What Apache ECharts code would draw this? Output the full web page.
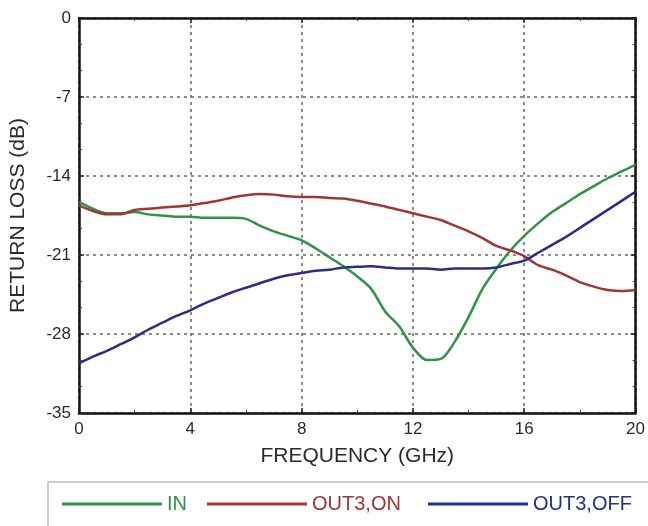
<!DOCTYPE html>
<html>
<head>
<meta charset="utf-8">
<script src="https://cdn.jsdelivr.net/npm/echarts@6/dist/echarts.min.js"></script>
<style>html,body{margin:0;padding:0;background:#fff;}#c{width:648px;height:526px;}</style>
</head>
<body>
<div id="c"></div>
<script>
const freq = [0,0.5,1,1.5,2,2.5,3,3.5,4,4.5,5,5.5,6,6.5,7,7.5,8,8.5,9,9.5,10,10.5,11,11.5,12,12.5,13,13.5,14,14.5,15,15.5,16,16.5,17,17.5,18,18.5,19,19.5,20];
const lossIN = [-16.3,-16.9,-17.3,-17.3,-17.2,-17.4,-17.5,-17.6,-17.6,-17.7,-17.7,-17.7,-17.8,-18.4,-18.9,-19.3,-19.7,-20.4,-21.2,-22.0,-22.9,-24.0,-26.0,-27.3,-29.2,-30.3,-30.2,-28.7,-26.5,-24.0,-22.2,-20.6,-19.3,-18.2,-17.2,-16.4,-15.6,-14.9,-14.2,-13.6,-13.0];
const lossOUT3ON = [-16.6,-17.1,-17.4,-17.4,-17.0,-16.9,-16.8,-16.7,-16.6,-16.4,-16.2,-15.9,-15.7,-15.6,-15.65,-15.8,-15.85,-15.85,-15.95,-16.0,-16.2,-16.45,-16.7,-17.0,-17.3,-17.6,-17.9,-18.4,-18.9,-19.5,-20.2,-20.6,-21.1,-21.9,-22.3,-22.8,-23.4,-23.8,-24.1,-24.2,-24.1];
const lossOUT3OFF = [-30.6,-30.0,-29.5,-28.9,-28.3,-27.6,-27.0,-26.4,-25.9,-25.3,-24.8,-24.3,-23.9,-23.5,-23.1,-22.8,-22.6,-22.4,-22.3,-22.1,-22.05,-22.0,-22.1,-22.2,-22.2,-22.2,-22.3,-22.2,-22.2,-22.2,-22.1,-21.8,-21.5,-20.8,-20.1,-19.4,-18.6,-17.8,-17.0,-16.2,-15.4];
const seriesNames = ['IN','OUT3,ON','OUT3,OFF'];
const seriesColors = ['#2f9448','#a23535','#2a2f86'];
const xTicks = [0,4,8,12,16,20];
const yTicks = [0,-7,-14,-21,-28,-35];

const pairs = arr => freq.map((f,i)=>[f,arr[i]]);
const font = 'Liberation Sans, Arial, sans-serif';
const chart = echarts.init(document.getElementById('c'));
const baseX = {type:'value',min:0,max:20,interval:4,
  axisLine:{show:true,onZero:false,lineStyle:{color:'#111',width:2.5}},
  axisTick:{show:true,inside:true,length:5,lineStyle:{color:'#222',width:1.5}},
  minorTick:{show:true,splitNumber:2,length:3,lineStyle:{color:'#444'}}};
const baseY = {type:'value',min:-35,max:0,interval:7,
  axisLine:{show:true,onZero:false,lineStyle:{color:'#111',width:2.5}},
  axisTick:{show:true,inside:true,length:5,lineStyle:{color:'#222',width:1.5}},
  minorTick:{show:true,splitNumber:3,length:3,lineStyle:{color:'#444'}}};
const lineData = [lossIN,lossOUT3ON,lossOUT3OFF];
const legendLeft = [62,207,428];
chart.setOption({
  animation:false,
  backgroundColor:'#fff',
  grid:{left:75,right:12,top:18,bottom:113},
  graphic:[{type:'rect',shape:{x:48,y:482,width:640,height:70},style:{fill:'none',stroke:'#bdbdbd',lineWidth:1.5},silent:true}],
  legend: seriesNames.map((n,i)=>({
    data:[{name:n,textStyle:{color:seriesColors[i]}}],
    left:legendLeft[i], top:494, icon:'rect', itemWidth:100, itemHeight:3,
    textStyle:{fontFamily:font,fontSize:20,padding:[0,0,0,0]}, padding:0
  })),
  xAxis:[
    Object.assign({},baseX,{position:'bottom',
      name:'FREQUENCY (GHz)',nameLocation:'middle',nameGap:33,
      nameTextStyle:{fontFamily:font,fontSize:21,color:'#2a2a2a'},
      axisLabel:{show:true,margin:8,fontFamily:font,fontSize:17,color:'#2a2a2a',
        formatter:v=>xTicks.includes(v)?String(v):''},
      splitLine:{show:true,lineStyle:{color:'#666',width:1.5,type:[3,4]}}}),
    Object.assign({},baseX,{position:'top',axisLabel:{show:false},splitLine:{show:false}})
  ],
  yAxis:[
    Object.assign({},baseY,{position:'left',
      name:'RETURN LOSS (dB)',nameLocation:'middle',nameGap:50,
      nameTextStyle:{fontFamily:font,fontSize:21,color:'#2a2a2a'},
      axisLabel:{show:true,margin:8,fontFamily:font,fontSize:17,color:'#2a2a2a',
        formatter:v=>yTicks.includes(v)?String(v):''},
      splitLine:{show:true,lineStyle:{color:'#666',width:1.5,type:[3,4]}}}),
    Object.assign({},baseY,{position:'right',axisLabel:{show:false},splitLine:{show:false}})
  ],
  series: seriesNames.map((n,i)=>({
    name:n,type:'line',data:pairs(lineData[i]),showSymbol:false,symbol:'none',
    smooth:0.3,lineStyle:{color:seriesColors[i],width:2.5},itemStyle:{color:seriesColors[i]},
    xAxisIndex:0,yAxisIndex:0,z:3
  }))
});
</script>
</body>
</html>
